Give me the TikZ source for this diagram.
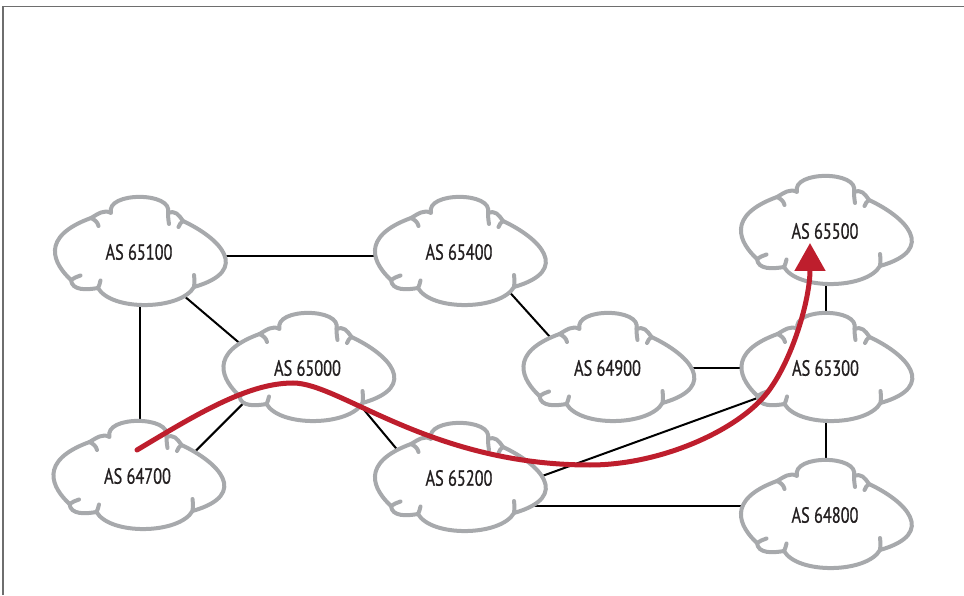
\documentclass[tikz,border=0pt]{standalone}
\usepackage{fontspec}
\setmainfont{PT Sans}[FakeStretch=0.74,FakeBold=0.8]
\usetikzlibrary{arrows.meta}
\pgfdeclarelayer{bg}
\pgfsetlayers{bg,main}
\definecolor{cloudgray}{RGB}{167,169,172}
\definecolor{pathred}{RGB}{190,30,45}
\definecolor{txt}{RGB}{35,31,32}
\definecolor{framegray}{RGB}{110,110,110}
\tikzset{
  astext/.style={inner sep=0pt, text=txt, font=\fontsize{22}{24}\selectfont},
  link/.style={line width=2pt, draw=black},
  cloudline/.style={draw=cloudgray, line width=4pt, line cap=round, line join=round},
  route/.style={draw=pathred, line width=5pt, line cap=round, -{Triangle[length=28pt,width=30pt]}},
  framel/.style={draw=framegray, line width=1.2pt},
  asCloud/.pic={
    \path[cloudline, fill=white]
      (29,39) .. controls (34.8,60.5) and (-33.8,60.5) .. (-28,39)
      .. controls (-34.9,43) and (-41.1,38) .. (-48,34)
      .. controls (-100,15.1) and (-85.4,-11.8) .. (-68,-28)
      .. controls (-67,-39) and (-51.8,-37.9) .. (-41,-36)
      .. controls (-27.5,-59.4) and (41.5,-58.4) .. (55,-35)
      .. controls (113.6,-18.2) and (80.1,14.2) .. (44,31)
      .. controls (39.4,37.6) and (36.5,41.7) .. (29,39)
      -- cycle;
    \draw[cloudline] (29,39) .. controls (29,35) and (29.5,31) .. (30,28);
    \draw[cloudline] (44,31) .. controls (42,29.5) and (40.5,28) .. (39.5,25);
    \draw[cloudline] (-48,34) .. controls (-44,32) and (-41.5,30) .. (-40.5,26);
    \draw[cloudline] (-68,-28) .. controls (-65,-26) and (-62,-24.5) .. (-58.5,-23.5);
    \draw[cloudline] (-41,-36) .. controls (-40,-34) and (-39,-31.5) .. (-38.5,-28.5);
    \draw[cloudline] (55,-35) .. controls (55.5,-31) and (55.5,-27) .. (55,-23);
  }
}
\begin{document}
\begin{tikzpicture}[x=1pt,y=1pt]
\useasboundingbox (0,0) rectangle (964,595);
\node[astext] (n65100) at (139,343) {AS 65100};
\node[astext] (n65400) at (459,343) {AS 65400};
\node[astext] (n65500) at (825,364) {AS 65500};
\node[astext] (n65000) at (307.5,227) {AS 65000};
\node[astext] (n64900) at (607.5,227) {AS 64900};
\node[astext] (n65300) at (825.5,227) {AS 65300};
\node[astext] (n64700) at (137.5,119) {AS 64700};
\node[astext] (n65200) at (459,117) {AS 65200};
\node[astext] (n64800) at (825,80) {AS 64800};
\begin{pgfonlayer}{bg}
\draw[link] ([yshift=-4.5pt]n65100.center) -- ([yshift=-4.5pt]n65400.center);
\draw[link] ([shift={(31,-32)}]n65100.center) -- ([shift={(-47.5,7.5)}]n65000.center);
\draw[link] ([xshift=1pt]n65100.center) -- ([xshift=2.5pt]n64700.center);
\draw[link] ([shift={(42.5,9.4)}]n64700.center) -- ([shift={(-37.5,-8.6)}]n65000.center);
\draw[link] ([shift={(42.5,-25)}]n65000.center) -- ([shift={(-49,13)}]n65200.center);
\draw[link] ([shift={(41,-29.5)}]n65400.center) -- ([shift={(-37.5,8.8)}]n64900.center);
\draw[link] (n64900.center) -- (n65300.center);
\draw[link] ([shift={(41,-13.3)}]n65200.center) -- ([shift={(-35.5,-18.2)}]n65300.center);
\draw[link] ([shift={(30,-28)}]n65200.center) -- ([shift={(-30,9)}]n64800.center);
\draw[link] ([xshift=0.5pt]n65300.center) -- ([xshift=1pt]n65500.center);
\draw[link] ([xshift=0.5pt]n65300.center) -- ([xshift=1pt]n64800.center);
\foreach \n in {n65100,n65400,n65500,n65000,n64900,n65300,n64700,n65200,n64800}
  \pic at (\n.center) {asCloud};
\end{pgfonlayer}
\coordinate (rstart) at ([shift={(-0.5,26)}]n64700.center);
\coordinate (rend) at ([shift={(-15,-12)}]n65500.center);
\draw[route] (rstart) .. controls (197,181) and (248,212) .. (293,212)
  .. controls (340,212) and (430,130) .. (590,130)
  .. controls (660,130) and (737,164) .. (767,202)
  .. controls (792,234) and (810,295) .. (rend);
\draw[framel] (3,0) -- (3,588.5) -- (964,588.5);
\end{tikzpicture}
\end{document}
